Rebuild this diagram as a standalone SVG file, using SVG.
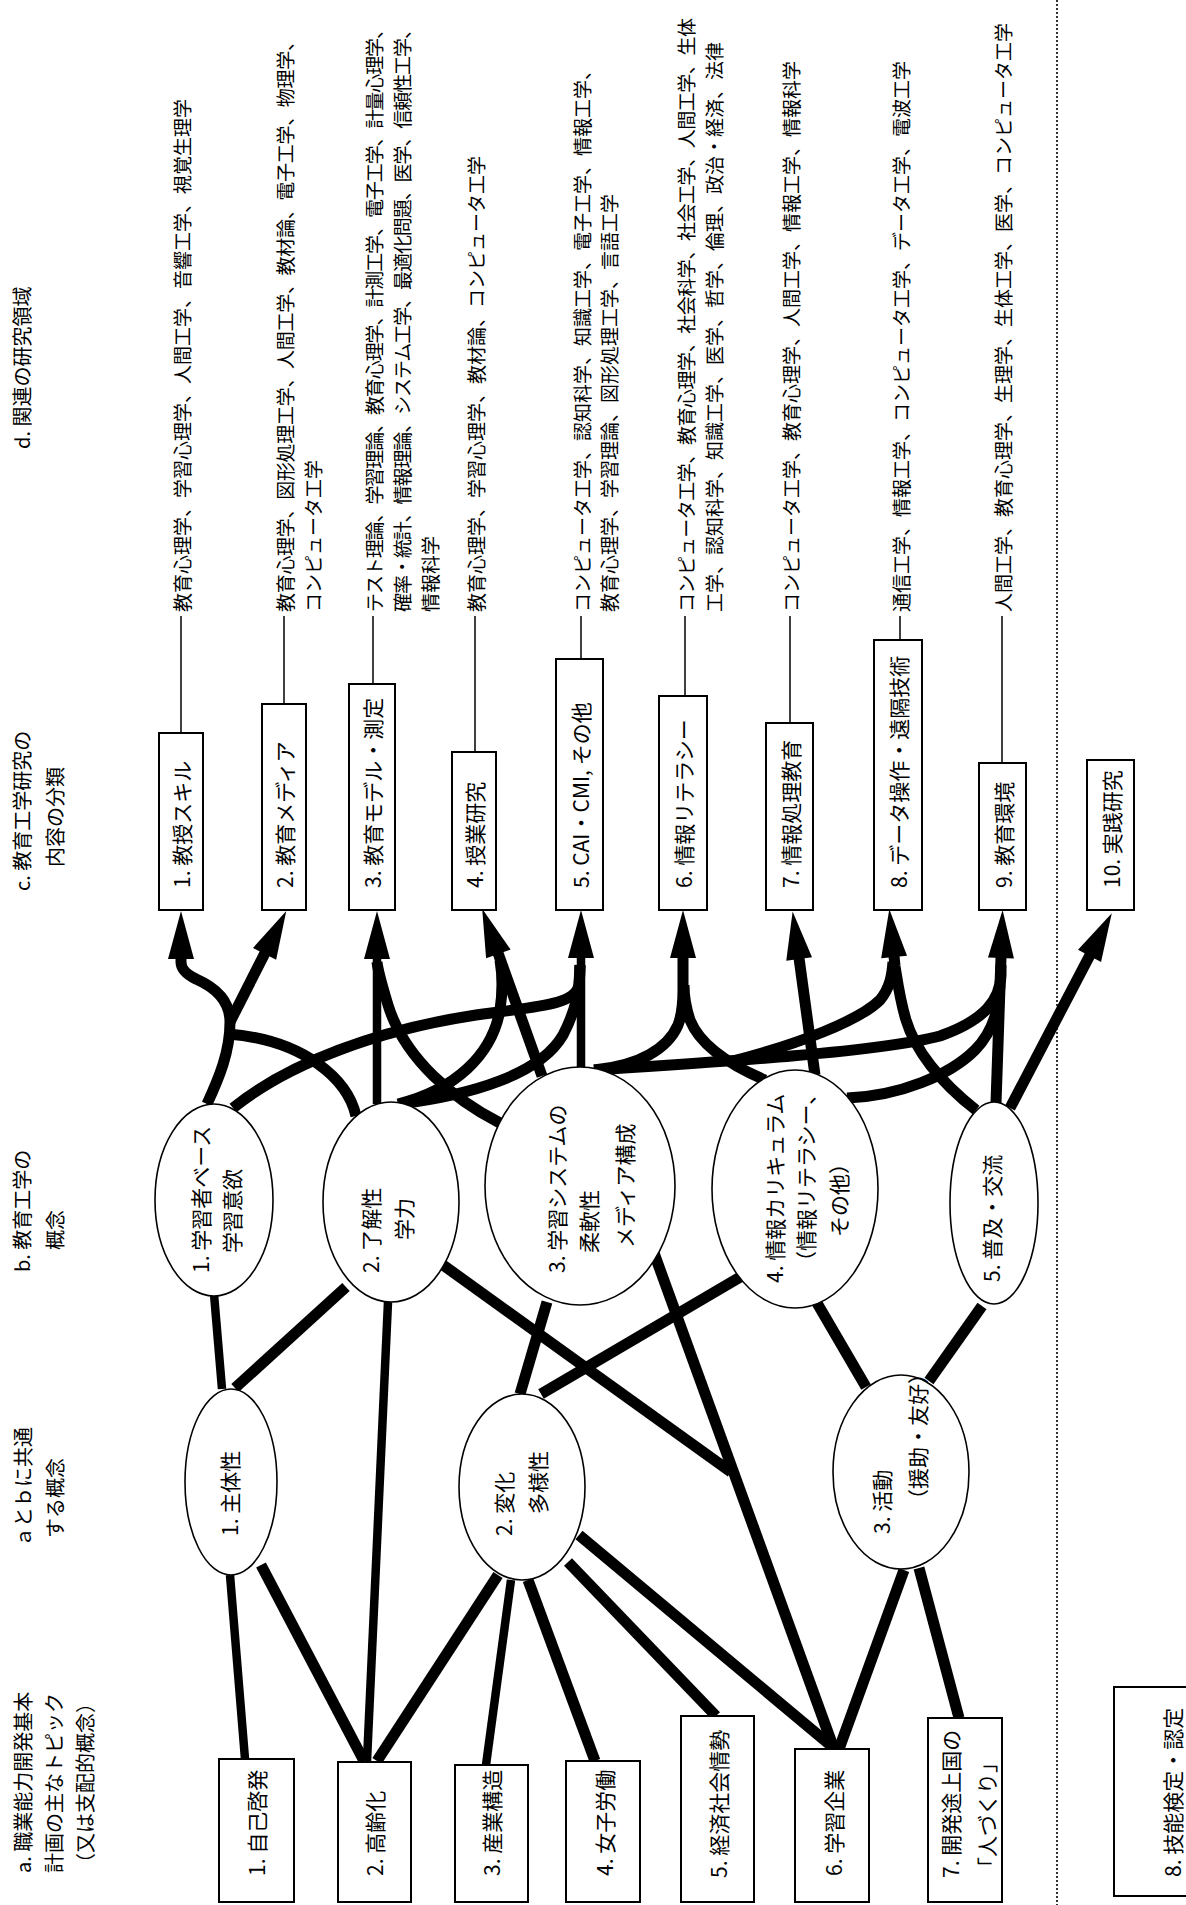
<svg xmlns="http://www.w3.org/2000/svg" width="1186" height="1905" viewBox="0 0 1186 1905">
<style>
.t{font-family:"Noto Sans CJK JP","Noto Sans",sans-serif;fill:#000;dominant-baseline:central}
.hd{font-size:20px}
.nd{font-size:21px}
.dt{font-size:19px}
.box{fill:#fff;stroke:#000;stroke-width:2}
.ell{fill:#fff;stroke:#000;stroke-width:1.6}
.thick{fill:none;stroke:#000;stroke-width:11;stroke-linecap:butt}
.th8{stroke-width:8.5}
.thin{stroke:#000;stroke-width:1.5}
.dot{stroke:#000;stroke-width:1.6;stroke-dasharray:2 2}
</style>
<defs>
<marker id="ah" markerUnits="userSpaceOnUse" markerWidth="50" markerHeight="28" refX="1" refY="13" orient="auto" overflow="visible">
<path d="M0,0 L48,13 L0,26 Z" fill="#000"/>
</marker>
</defs>
<rect width="1186" height="1905" fill="#fff"/>

<g id="headers">
<text class="t hd" transform="translate(21,449) rotate(-90)">d. 関連の研究領域</text>
<text class="t hd" transform="translate(21,891) rotate(-90)">c. 教育工学研究の</text>
<text class="t hd" transform="translate(54,867) rotate(-90)">内容の分類</text>
<text class="t hd" transform="translate(21,1272) rotate(-90)">b. 教育工学の</text>
<text class="t hd" transform="translate(54,1250) rotate(-90)">概念</text>
<text class="t hd" transform="translate(22,1547) rotate(-90)">ａとｂに共通</text>
<text class="t hd" transform="translate(54,1538) rotate(-90)">する概念</text>
<text class="t hd" transform="translate(22,1873) rotate(-90)">a. 職業能力開発基本</text>
<text class="t hd" transform="translate(53,1873) rotate(-90)">計画の主なトピック</text>
<text class="t hd" transform="translate(84,1873) rotate(-90)">（又は支配的概念）</text>
</g>

<g id="divider">
<line class="dot" x1="1057" y1="0" x2="1057" y2="1905"/>
</g>

<g id="connectors">
<line class="thin" x1="181" y1="616" x2="181" y2="733"/>
<line class="thin" x1="284" y1="616" x2="284" y2="704"/>
<line class="thin" x1="373" y1="616" x2="373" y2="684"/>
<line class="thin" x1="475" y1="616" x2="475" y2="752"/>
<line class="thin" x1="581" y1="616" x2="581" y2="659"/>
<line class="thin" x1="685" y1="616" x2="685" y2="696"/>
<line class="thin" x1="790" y1="616" x2="790" y2="723"/>
<line class="thin" x1="900" y1="616" x2="900" y2="640"/>
<line class="thin" x1="1002" y1="616" x2="1002" y2="763"/>

<path class="thick" d="M207,1104 C219,1078 230,1052 230,1022 C230,998 212,986 196,979 C184,973 181,968 181,962 L181,958" marker-end="url(#ah)"/>
<path class="thick" d="M230,1022 L265,953" marker-end="url(#ah)"/>
<path class="thick" d="M356,1116 C348,1080 305,1040 228,1034"/>
<path class="thick" d="M233,1108 C290,1062 380,1030 470,1016 C540,1006 575,1005 579,985 L580,965"/>
<path class="thick" d="M400,1104 C470,1095 540,1075 563,1035 C576,1010 580,990 580,965"/>
<path class="thick" d="M398,1104 C455,1090 492,1055 500,1010 C503,990 502,972 500,960"/>
<path class="thick" d="M542,1076 L498,953" marker-end="url(#ah)"/>
<path class="thick th8" d="M377,1104 L377,958" marker-end="url(#ah)"/>
<path class="thick" d="M500,1123 C455,1100 405,1060 388,1005 C382,985 378,972 377,962"/>
<path class="thick th8" d="M581,1068 L581,957" marker-end="url(#ah)"/>
<path class="thick" d="M594,1070 C640,1066 668,1048 678,1025 C683,1012 683,1000 683,990 L683,957" marker-end="url(#ah)"/>
<path class="thick" d="M765,1080 C730,1065 700,1045 690,1020 C685,1005 684,995 684,985"/>
<path class="thick" d="M594,1070 C720,1062 880,1052 940,1036 C985,1020 1000,1000 1001,975 L1001,965"/>
<path class="thick" d="M729,1062 C800,1044 860,1020 880,1000 C890,988 892,975 893,962"/>
<path class="thick" d="M976,1110 C940,1082 915,1050 906,1020 C900,1000 898,985 895,966 L894,956" marker-end="url(#ah)"/>
<path class="thick" d="M815,1075 L799,958" marker-end="url(#ah)"/>
<path class="thick" d="M847,1098 C900,1096 950,1075 975,1050 C995,1030 999,1005 1000,985"/>
<path class="thick" d="M996,1103 L1001,957" marker-end="url(#ah)"/>
<path class="thick" d="M1010,1108 L1090,955" marker-end="url(#ah)"/>

<line class="thick th8" x1="245" y1="1759" x2="230" y2="1575"/>
<line class="thick" x1="364" y1="1761" x2="261" y2="1565"/>
<line class="thick" x1="377" y1="1761" x2="498" y2="1575"/>
<line class="thick th8" x1="367" y1="1761" x2="388" y2="1302"/>
<line class="thick th8" x1="222" y1="1389" x2="214" y2="1294"/>
<line class="thick" x1="235" y1="1388" x2="346" y2="1287"/>
<line class="thick th8" x1="486" y1="1765" x2="511" y2="1580"/>
<line class="thick" x1="595" y1="1761" x2="528" y2="1580"/>
<line class="thick" x1="520" y1="1394" x2="547" y2="1302"/>
<line class="thick" x1="541" y1="1394" x2="742" y2="1276"/>
<line class="thick" x1="579" y1="1535" x2="835" y2="1749"/>
<line class="thick" x1="568" y1="1562" x2="716" y2="1716"/>
<line class="thick" x1="443" y1="1265" x2="731" y2="1472"/>
<line class="thick" x1="654" y1="1253" x2="834" y2="1749"/>
<line class="thick" x1="817" y1="1303" x2="866" y2="1387"/>
<line class="thick" x1="982" y1="1306" x2="929" y2="1381"/>
<line class="thick" x1="904" y1="1570" x2="839" y2="1749"/>
<line class="thick" x1="919" y1="1568" x2="959" y2="1718"/>
</g>

<g id="d1"><text class="t dt" transform="translate(181,612) rotate(-90)">教育心理学、学習心理学、人間工学、音響工学、視覚生理学</text></g>
<g id="d2">
<text class="t dt" transform="translate(284,612) rotate(-90)" textLength="580">教育心理学、図形処理工学、人間工学、教材論、電子工学、物理学、</text>
<text class="t dt" transform="translate(312,612) rotate(-90)">コンピュータ工学</text>
</g>
<g id="d3">
<text class="t dt" transform="translate(373,612) rotate(-90)" textLength="592">テスト理論、学習理論、教育心理学、計測工学、電子工学、計量心理学、</text>
<text class="t dt" transform="translate(401,612) rotate(-90)" textLength="592">確率・統計、情報理論、システム工学、最適化問題、医学、信頼性工学、</text>
<text class="t dt" transform="translate(429,612) rotate(-90)">情報科学</text>
</g>
<g id="d4"><text class="t dt" transform="translate(475,612) rotate(-90)">教育心理学、学習心理学、教材論、コンピュータ工学</text></g>
<g id="d5">
<text class="t dt" transform="translate(581,612) rotate(-90)">コンピュータ工学、認知科学、知識工学、電子工学、情報工学、</text>
<text class="t dt" transform="translate(608,612) rotate(-90)">教育心理学、学習理論、図形処理工学、言語工学</text>
</g>
<g id="d6">
<text class="t dt" transform="translate(685,612) rotate(-90)" textLength="594">コンピュータ工学、教育心理学、社会科学、社会工学、人間工学、生体</text>
<text class="t dt" transform="translate(713,612) rotate(-90)">工学、認知科学、知識工学、医学、哲学、倫理、政治・経済、法律</text>
</g>
<g id="d7"><text class="t dt" transform="translate(790,612) rotate(-90)">コンピュータ工学、教育心理学、人間工学、情報工学、情報科学</text></g>
<g id="d8"><text class="t dt" transform="translate(900,612) rotate(-90)">通信工学、情報工学、コンピュータ工学、データ工学、電波工学</text></g>
<g id="d9"><text class="t dt" transform="translate(1002,612) rotate(-90)">人間工学、教育心理学、生理学、生体工学、医学、コンピュータ工学</text></g>

<g id="c1"><rect class="box" x="159" y="733" width="44" height="177"/><text class="t nd" transform="translate(181,888) rotate(-90)">1. 教授スキル</text></g>
<g id="c2"><rect class="box" x="262" y="704" width="44" height="206"/><text class="t nd" transform="translate(284,888) rotate(-90)">2. 教育メディア</text></g>
<g id="c3"><rect class="box" x="349" y="684" width="46" height="226"/><text class="t nd" transform="translate(372,888) rotate(-90)">3. 教育モデル・測定</text></g>
<g id="c4"><rect class="box" x="452" y="752" width="44" height="158"/><text class="t nd" transform="translate(474,888) rotate(-90)">4. 授業研究</text></g>
<g id="c5"><rect class="box" x="556" y="659" width="47" height="251"/><text class="t nd" transform="translate(580,888) rotate(-90)">5. CAI・CMI, その他</text></g>
<g id="c6"><rect class="box" x="659" y="696" width="48" height="214"/><text class="t nd" transform="translate(683,888) rotate(-90)">6. 情報リテラシー</text></g>
<g id="c7"><rect class="box" x="766" y="723" width="47" height="187"/><text class="t nd" transform="translate(790,888) rotate(-90)">7. 情報処理教育</text></g>
<g id="c8"><rect class="box" x="874" y="640" width="48" height="270"/><text class="t nd" transform="translate(898,888) rotate(-90)">8. データ操作・遠隔技術</text></g>
<g id="c9"><rect class="box" x="979" y="763" width="47" height="147"/><text class="t nd" transform="translate(1003,888) rotate(-90)">9. 教育環境</text></g>
<g id="c10"><rect class="box" x="1087" y="760" width="47" height="150"/><text class="t nd" transform="translate(1111,888) rotate(-90)">10. 実践研究</text></g>

<g id="b1"><ellipse class="ell" cx="214" cy="1200" rx="59" ry="96"/>
<text class="t nd" transform="translate(200,1273) rotate(-90)">1. 学習者ベース</text>
<text class="t nd" transform="translate(231,1253) rotate(-90)">学習意欲</text></g>
<g id="b2"><ellipse class="ell" cx="391" cy="1202" rx="68" ry="100"/>
<text class="t nd" transform="translate(370,1273) rotate(-90)">2. 了解性</text>
<text class="t nd" transform="translate(403,1240) rotate(-90)">学力</text></g>
<g id="b3"><ellipse class="ell" cx="580" cy="1186" rx="95" ry="119"/>
<text class="t nd" transform="translate(556,1273) rotate(-90)">3. 学習システムの</text>
<text class="t nd" transform="translate(588,1253) rotate(-90)">柔軟性</text>
<text class="t nd" transform="translate(624,1248) rotate(-90)">メディア構成</text></g>
<g id="b4"><ellipse class="ell" cx="795" cy="1189" rx="83" ry="119"/>
<text class="t nd" transform="translate(774,1283) rotate(-90)">4. 情報カリキュラム</text>
<text class="t nd" transform="translate(805,1272) rotate(-90)">（情報リテラシー、</text>
<text class="t nd" transform="translate(838,1237) rotate(-90)">その他）</text></g>
<g id="b5"><ellipse class="ell" cx="994" cy="1203" rx="44" ry="101"/>
<text class="t nd" transform="translate(991,1282) rotate(-90)">5. 普及・交流</text></g>

<g id="m1"><ellipse class="ell" cx="231" cy="1482" rx="46" ry="93"/>
<text class="t nd" transform="translate(229,1536) rotate(-90)">1. 主体性</text></g>
<g id="m2"><ellipse class="ell" cx="522" cy="1487" rx="63" ry="93"/>
<text class="t nd" transform="translate(503,1536) rotate(-90)">2. 変化</text>
<text class="t nd" transform="translate(537,1514) rotate(-90)">多様性</text></g>
<g id="m3"><ellipse class="ell" cx="901" cy="1472" rx="68" ry="97"/>
<text class="t nd" transform="translate(881,1534) rotate(-90)">3. 活動</text>
<text class="t nd" transform="translate(917,1510) rotate(-90)">（援助・友好）</text></g>

<g id="a1"><rect class="box" x="219" y="1759" width="75" height="143"/><text class="t nd" transform="translate(256,1876) rotate(-90)">1. 自己啓発</text></g>
<g id="a2"><rect class="box" x="338" y="1762" width="73" height="140"/><text class="t nd" transform="translate(374,1876) rotate(-90)">2. 高齢化</text></g>
<g id="a3"><rect class="box" x="455" y="1765" width="73" height="137"/><text class="t nd" transform="translate(491,1876) rotate(-90)">3. 産業構造</text></g>
<g id="a4"><rect class="box" x="566" y="1761" width="74" height="141"/><text class="t nd" transform="translate(604,1876) rotate(-90)">4. 女子労働</text></g>
<g id="a5"><rect class="box" x="681" y="1716" width="73" height="186"/><text class="t nd" transform="translate(718,1878) rotate(-90)">5. 経済社会情勢</text></g>
<g id="a6"><rect class="box" x="795" y="1749" width="74" height="153"/><text class="t nd" transform="translate(833,1876) rotate(-90)">6. 学習企業</text></g>
<g id="a7"><rect class="box" x="928" y="1718" width="74" height="184"/>
<text class="t nd" transform="translate(950,1878) rotate(-90)">7. 開発途上国の</text>
<text class="t nd" transform="translate(986,1878) rotate(-90)">「人づくり」</text></g>
<g id="a8"><rect class="box" x="1114" y="1687" width="100" height="209"/><text class="t nd" transform="translate(1172,1877) rotate(-90)">8. 技能検定・認定</text></g>
</svg>
